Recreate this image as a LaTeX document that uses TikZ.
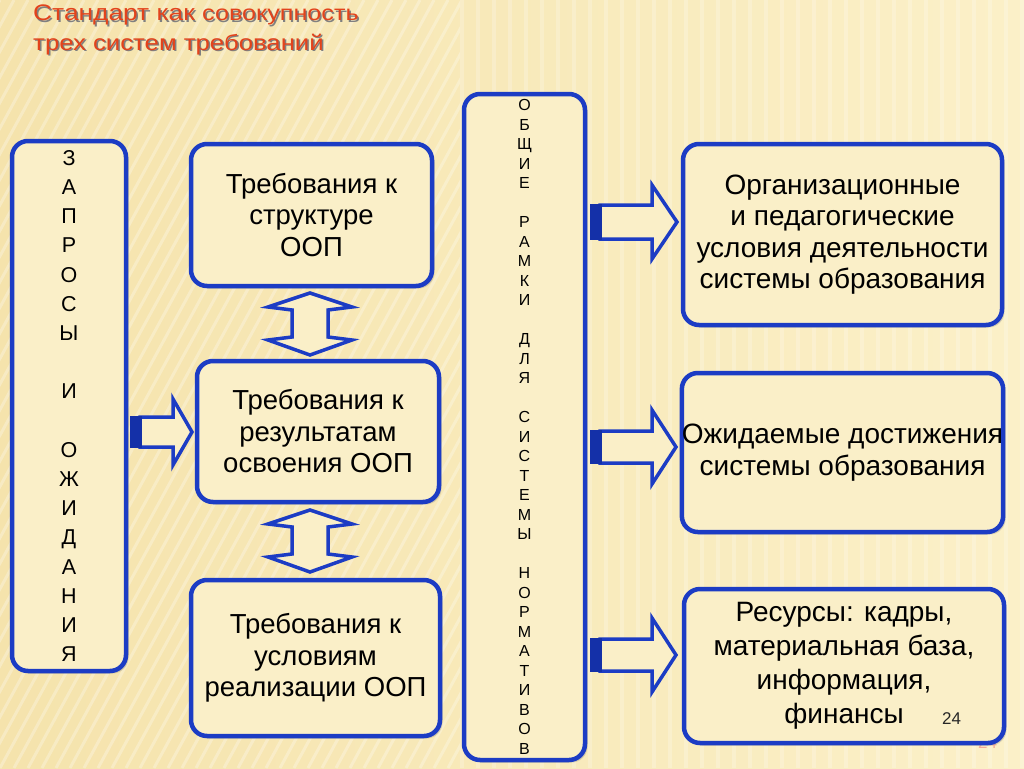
\documentclass[tikz,border=0pt]{standalone}
\usepackage{fontspec}
\setmainfont{Liberation Sans}
\usetikzlibrary{shadows}
\definecolor{bgl}{HTML}{F5E3AC}
\definecolor{bgr}{HTML}{FBF0C8}
\definecolor{boxfill}{HTML}{FAEFC8}
\definecolor{bord}{HTML}{1C3CC4}
\definecolor{bordd}{HTML}{1430A8}
\definecolor{ttl}{HTML}{E2431C}
\newcommand{\myrarrow}[6]{% x0, cy, xb, tip, shaft half, head half
  \filldraw[arrowline, fill=boxfill] (#1+10,#2-#5) -- (#3,#2-#5) -- (#3,#2-#6) -- (#4,#2) -- (#3,#2+#6) -- (#3,#2+#5) -- (#1+10,#2+#5) -- cycle;
  \fill[bordd] (#1,#2-#5-1) rectangle (#1+12,#2+#5+1);
}
\newcommand{\myvarrow}[6]{% cx, ytop, yhb1, yhb2, ybot, headhalf
  \filldraw[arrowline, fill=boxfill] (#1,#2) -- (#1+#6,#3) -- (#1+18,#3+3) -- (#1+18,#4-3) -- (#1+#6,#4) -- (#1,#5) -- (#1-#6,#4) -- (#1-18,#4-3) -- (#1-18,#3+3) -- (#1-#6,#3) -- cycle;
}
\begin{document}
\begin{tikzpicture}[x=1pt,y=-1pt,
  panel/.style={draw=bord, line width=4.5pt, rounded corners=16pt, fill=boxfill,
    drop shadow={shadow xshift=2.5pt, shadow yshift=-2.5pt, opacity=0.3},
    inner sep=0pt, align=center, font=\fontsize{27.5}{31.5}\selectfont},
  arrowline/.style={draw=bord, line width=3.5pt, line join=miter},
  ttlfont/.style={inner sep=0pt, anchor=base west, text=ttl, xscale=1.17, transform shape},
  ttlshadow/.style={inner sep=0pt, anchor=base west, text=black!50, xscale=1.17, transform shape}]
\useasboundingbox (0,0) rectangle (1024,768);
\shade[left color=bgl, right color=bgr] (0,0) rectangle (1024,768);
\begin{scope}
\clip (0,0) rectangle (460,768);
\foreach \i in {0,14,...,1000} {
  \draw[white, opacity=0.28, line width=3pt] (\i,0) -- (\i-420,768);
}
\end{scope}
\begin{scope}
\clip (460,0) rectangle (1024,768);
\foreach \i in {462,478,...,1024} {
  \draw[white, opacity=0.22, line width=4pt] (\i,0) -- (\i,768);
}
\end{scope}
% title
\node[ttlshadow] (t1s) at (34.5,22.5) {\fontsize{22.5}{26}\selectfont Стандарт как \fontsize{21.5}{26}\selectfont совокупность};
\node[ttlfont] (t1) at (33,21) {\fontsize{22.5}{26}\selectfont Стандарт как \fontsize{21.5}{26}\selectfont совокупность};
\node[ttlshadow] (t2s) at (34.5,52) {\fontsize{22}{26}\selectfont трех систем требований};
\node[ttlfont] (t2) at (33,50.5) {\fontsize{22}{26}\selectfont трех систем требований};
% faint page number behind
\node[inner sep=0pt, anchor=base west, text=ttl!45, font=\fontsize{17}{20}\selectfont] (pgf) at (978,748) {24};
% boxes
\node[panel, minimum width=114pt, minimum height=530pt, font=\fontsize{21.5}{29.2}\selectfont] (req) at (69,406)
 {З\\А\\П\\Р\\О\\С\\Ы\\~\\И\\~\\О\\Ж\\И\\Д\\А\\Н\\И\\Я};
\node[panel, minimum width=241pt, minimum height=142pt] (s1) at (311.5,215) {Требования к\\структуре\\ООП};
\node[panel, minimum width=242pt, minimum height=141pt] (s2) at (318,431.5) {Требования к\\результатам\\освоения ООП};
\node[panel, minimum width=249pt, minimum height=156pt] (s3) at (315.5,658) {Требования к\\условиям\\реализации ООП};
\node[panel, minimum width=121pt, minimum height=666pt, font=\fontsize{16}{19.5}\selectfont] (mid) at (524.5,427)
 {О\\Б\\Щ\\И\\Е\\~\\Р\\А\\М\\К\\И\\~\\Д\\Л\\Я\\~\\С\\И\\С\\Т\\Е\\М\\Ы\\~\\Н\\О\\Р\\М\\А\\Т\\И\\В\\О\\В};
\node[panel, minimum width=319pt, minimum height=181pt, font=\fontsize{28}{31.5}\selectfont] (ra) at (842.5,234.5) {Организационные\\и педагогические\\условия деятельности\\системы образования};
\node[panel, minimum width=319pt, minimum height=159pt, font=\fontsize{28}{31.5}\selectfont] (rb) at (842.5,452.5) {Ожидаемые достижения\\системы образования};
\node[panel, minimum width=320pt, minimum height=154pt, font=\fontsize{28}{34}\selectfont] (rc) at (844,666) {Ресурсы: кадры,\\материальная база,\\информация,\\финансы};
\node[inner sep=0pt, anchor=base west, text=black!85, font=\fontsize{17}{20}\selectfont] (pg) at (942,724) {24};
% arrows
\myrarrow{130}{432}{173}{192}{15}{33}
\myrarrow{590}{222}{652}{677}{17}{37}
\myrarrow{590}{447}{652}{676}{16}{37}
\myrarrow{590}{655}{652}{676}{16}{37}
\myvarrow{310}{293}{307}{340}{355}{42}
\myvarrow{310}{510}{524}{557}{572}{42}
\end{tikzpicture}
\end{document}
